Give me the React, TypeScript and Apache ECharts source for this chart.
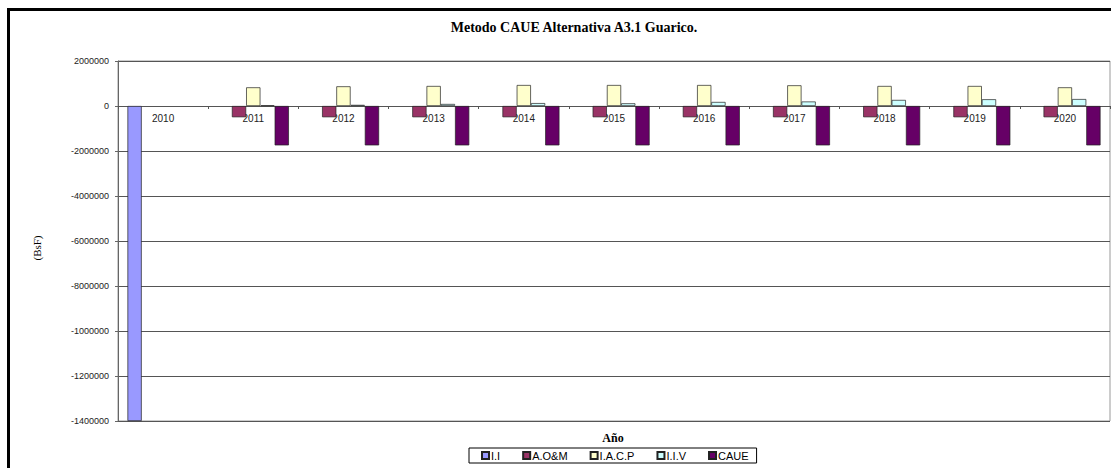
import React, { useEffect, useRef } from "react";
import * as echarts from "echarts";

const years = ["2010", "2011", "2012", "2013", "2014", "2015", "2016", "2017", "2018", "2019", "2020"];
const seriesNames = ["I.I", "A.O&M", "I.A.C.P", "I.I.V", "CAUE"];
const seriesColors = ["#9999FF", "#993366", "#FFFFCC", "#CCFFFF", "#660066"];
const valuesII = [-14000000, null, null, null, null, null, null, null, null, null, null];
const valuesAOM = [null, -500000, -500000, -500000, -500000, -500000, -500000, -500000, -500000, -500000, -500000];
const valuesIACP = [null, 830000, 875000, 890000, 933000, 933000, 933000, 920000, 890000, 890000, 830000];
const valuesIIV = [null, 30000, 50000, 90000, 130000, 120000, 180000, 200000, 270000, 300000, 310000];
const valuesCAUE = [null, -1750000, -1750000, -1750000, -1750000, -1750000, -1750000, -1750000, -1750000, -1750000, -1750000];
const yTickLabels = ["2000000", "0", "-2000000", "-4000000", "-6000000", "-8000000", "-1000000", "-1200000", "-1400000"];
const titleText = "Metodo CAUE Alternativa A3.1 Guarico.";
const yAxisTitle = "(BsF)";
const xAxisTitle = "Año";

export default function App() {
  const ref = useRef<HTMLDivElement>(null);
  useEffect(() => {
    document.body.style.margin = "0";
    const chart = echarts.init(ref.current!, undefined, { renderer: "svg" });
    const allValues = [valuesII, valuesAOM, valuesIACP, valuesIIV, valuesCAUE];
    const serif = "Liberation Serif";
    const sans = "Liberation Sans";
    chart.setOption({
      animation: false,
      backgroundColor: "#ffffff",
      graphic: [
        {
          type: "rect",
          shape: { x: 8.5, y: 9.5, width: 1120, height: 480 },
          style: { fill: "none", stroke: "#000", lineWidth: 3 },
          z: 100,
        },
        {
          type: "text",
          x: 574,
          y: 27,
          style: {
            text: titleText,
            fontFamily: serif,
            fontWeight: "bold",
            fontSize: 14,
            fill: "#000",
            align: "center",
            verticalAlign: "middle",
          },
        },
        {
          type: "text",
          x: 37,
          y: 248,
          rotation: Math.PI / 2,
          style: {
            text: yAxisTitle,
            fontFamily: serif,
            fontSize: 11,
            fill: "#000",
            align: "center",
            verticalAlign: "middle",
          },
        },
        {
          type: "text",
          x: 613,
          y: 438,
          style: {
            text: xAxisTitle,
            fontFamily: serif,
            fontWeight: "bold",
            fontSize: 12,
            fill: "#000",
            align: "center",
            verticalAlign: "middle",
          },
        },
      ],
      legend: {
        data: seriesNames,
        left: 469,
        top: 448,
        icon: "rect",
        itemWidth: 7,
        itemHeight: 7,
        itemGap: 22,
        padding: [2, 8, 2, 12],
        borderColor: "#000",
        borderWidth: 1,
        textStyle: { fontFamily: sans, fontSize: 11, color: "#000", padding: [0, 0, 0, -3] },
      },
      grid: { left: 118, right: 1, top: 61, bottom: 47, show: true, borderColor: "#999", borderWidth: 1 },
      xAxis: {
        type: "category",
        data: years,
        position: "bottom",
        offset: -315,
        axisLine: { onZero: false, lineStyle: { color: "#555", width: 1 } },
        axisTick: { show: true, length: 3, lineStyle: { color: "#555" } },
        axisLabel: { fontFamily: sans, fontSize: 10, color: "#222", margin: 7 },
        splitLine: { show: false },
      },
      yAxis: {
        type: "value",
        min: -14000000,
        max: 2000000,
        interval: 2000000,
        axisLine: { show: true, lineStyle: { color: "#666" } },
        axisTick: { show: true, length: 3, lineStyle: { color: "#666" } },
        axisLabel: {
          fontFamily: sans,
          fontSize: 9,
          color: "#222",
          margin: 9,
          formatter: (v: number) => yTickLabels[Math.round((2000000 - v) / 2000000)] ?? "",
        },
        splitLine: { show: true, lineStyle: { color: "#555", width: 1 } },
      },
      series: seriesNames.map((name, i) => ({
        name,
        type: "bar",
        data: allValues[i],
        barGap: "0%",
        barCategoryGap: "21%",
        itemStyle: { color: seriesColors[i], borderColor: "#222", borderWidth: 0.7 },
      })),
    });
    return () => chart.dispose();
  }, []);
  return <div ref={ref} style={{ width: 1111, height: 468 }} />;
}
